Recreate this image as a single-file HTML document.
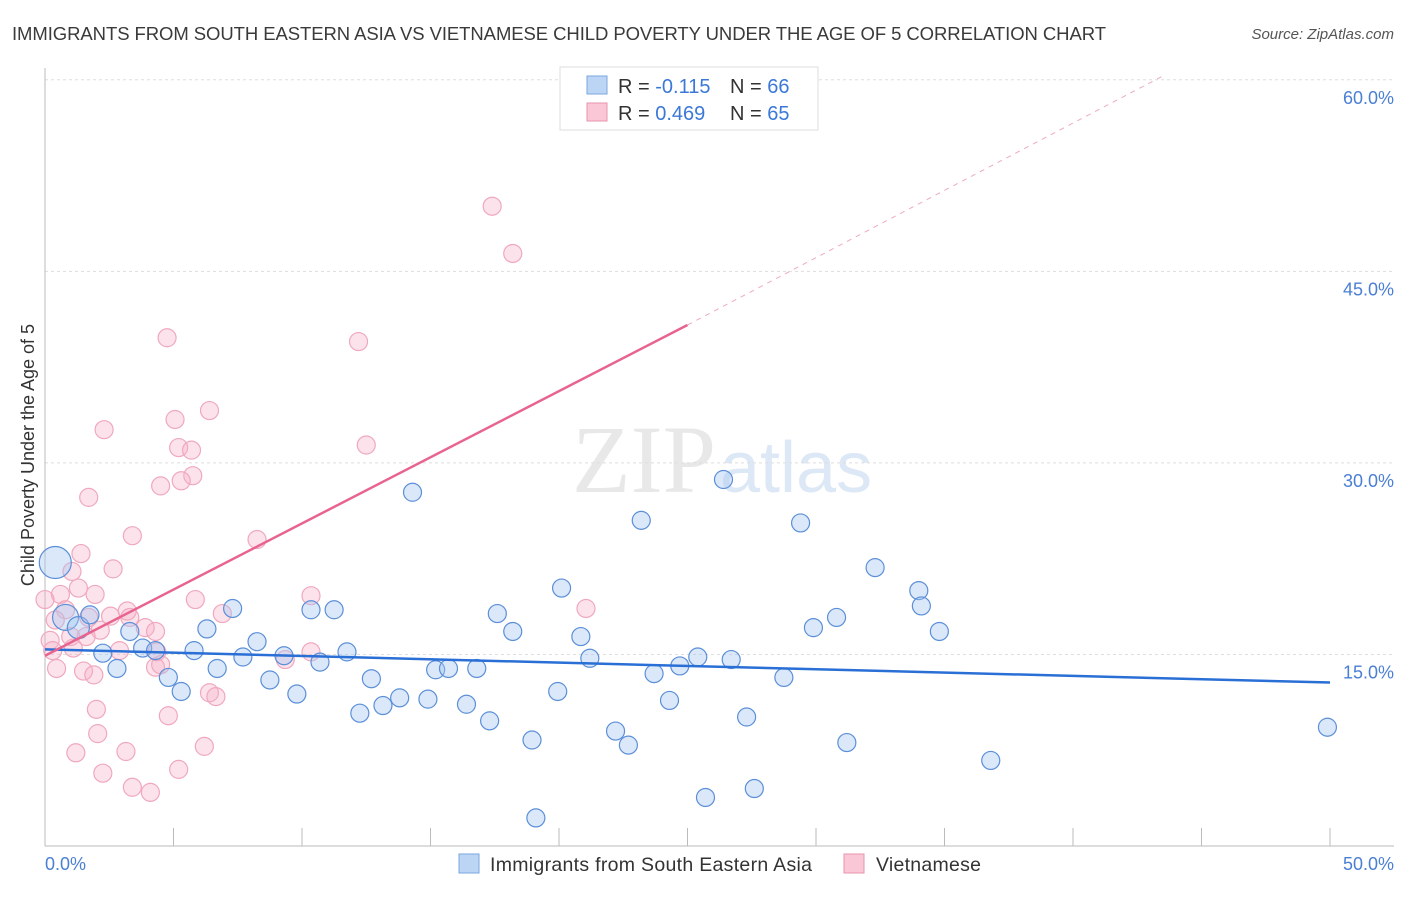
<!DOCTYPE html>
<html><head><meta charset="utf-8"><style>
body{margin:0;background:#fff;font-family:"Liberation Sans",sans-serif;}
</style></head><body>
<svg width="1406" height="892" xmlns="http://www.w3.org/2000/svg">
<text x="12" y="40" font-size="18.5" fill="#3a3a3a" textLength="1094">IMMIGRANTS FROM SOUTH EASTERN ASIA VS VIETNAMESE CHILD POVERTY UNDER THE AGE OF 5 CORRELATION CHART</text>
<text x="1394" y="39" font-size="15" fill="#555" font-style="italic" text-anchor="end">Source: ZipAtlas.com</text>
<text x="716" y="492" font-size="96" fill="#e8e8e8" text-anchor="end" font-family="Liberation Serif">ZIP</text>
<text x="720" y="492" font-size="72" fill="#dde8f6">atlas</text>
<g id="grid"></g>
<g id="axes"></g>
<g id="pts"></g>
<g id="lines"></g>
<text x="34" y="455" font-size="18" fill="#333" text-anchor="middle" transform="rotate(-90 34 455)">Child Poverty Under the Age of 5</text>
<text x="45" y="870" font-size="18" fill="#4a7fd4">0.0%</text>
<text x="1394" y="870" font-size="18" fill="#4a7fd4" text-anchor="end">50.0%</text>
<g>
<rect x="560" y="67" width="258" height="63" fill="#fff" stroke="#ddd"/>
<rect x="587" y="76" width="20" height="18" fill="#bcd5f5" stroke="#7aa7e0"/>
<rect x="587" y="103" width="20" height="18" fill="#f9c7d5" stroke="#e994ae"/>
<text x="618" y="93" font-size="20" fill="#333">R = <tspan fill="#3b78d8">-0.115</tspan></text>
<text x="730" y="93" font-size="20" fill="#333">N = <tspan fill="#3b78d8">66</tspan></text>
<text x="618" y="120" font-size="20" fill="#333">R = <tspan fill="#3b78d8">0.469</tspan></text>
<text x="730" y="120" font-size="20" fill="#333">N = <tspan fill="#3b78d8">65</tspan></text>
</g>
<g>
<rect x="459" y="854" width="20" height="19" fill="#bcd5f5" stroke="#7aa7e0"/>
<text x="490" y="871" font-size="19.5" fill="#333" textLength="322">Immigrants from South Eastern Asia</text>
<rect x="844" y="854" width="20" height="19" fill="#f9c7d5" stroke="#e994ae"/>
<text x="876" y="871" font-size="19.5" fill="#333" textLength="105">Vietnamese</text>
</g>
</svg>
<script>
const yTicks=[15,30,45,60];
const xTickVals=[0,5,10,15,20,25,30,35,40,45,50];
const blueX=[0.4,0.8,1.3,1.75,2.25,2.8,3.3,3.8,4.3,4.8,5.3,5.8,6.3,6.7,7.3,7.7,8.25,8.75,9.3,9.8,10.35,10.7,11.25,11.75,12.25,12.7,13.15,13.8,14.3,14.9,15.2,15.7,16.4,16.8,17.3,17.6,18.2,18.95,19.1,19.95,20.1,20.85,21.2,22.2,22.7,23.2,23.7,24.3,24.7,25.4,25.7,26.4,26.7,27.3,27.6,28.75,29.4,29.9,30.8,31.2,32.3,34.0,34.1,34.8,36.8,49.9];
const blueY=[22.2,17.9,17.1,18.1,15.1,13.9,16.8,15.5,15.3,13.2,12.1,15.3,17.0,13.9,18.6,14.8,16.0,13.0,14.9,11.9,18.5,14.4,18.5,15.2,10.4,13.1,11.0,11.6,27.7,11.5,13.8,13.9,11.1,13.9,9.8,18.2,16.8,8.3,2.2,12.1,20.2,16.4,14.7,9.0,7.9,25.5,13.5,11.4,14.1,14.8,3.8,28.7,14.6,10.1,4.5,13.2,25.3,17.1,17.9,8.1,21.8,20.0,18.8,16.8,6.7,9.3];
const blueR=[16,13,11,9,9,9,9,9,9,9,9,9,9,9,9,9,9,9,9,9,9,9,9,9,9,9,9,9,9,9,9,9,9,9,9,9,9,9,9,9,9,9,9,9,9,9,9,9,9,9,9,9,9,9,9,9,9,9,9,9,9,9,9,9,9,9];
const pinkX=[17.4,18.2,4.75,12.2,6.4,5.06,2.3,5.2,5.7,12.5,5.75,5.3,4.5,1.7,3.4,8.25,1.4,2.65,1.05,1.3,0.6,1.95,10.35,5.85,0,0.8,3.2,21.05,6.9,2.55,3.3,0.4,1.7,3.9,2.15,4.3,1.0,0.2,1.6,2.9,4.35,0.3,1.1,10.35,9.35,4.3,0.45,1.5,1.9,6.4,6.65,2.0,4.8,2.05,6.2,1.2,3.15,5.2,2.25,3.4,4.1,4.5];
const pinkY=[50.1,46.4,39.8,39.5,34.1,33.4,32.6,31.2,31.0,31.4,29.0,28.6,28.2,27.3,24.3,24.0,22.9,21.7,21.5,20.2,19.7,19.7,19.6,19.3,19.3,18.5,18.4,18.6,18.2,18.0,17.9,17.7,17.9,17.1,16.9,16.8,16.4,16.1,16.4,15.3,15.2,15.3,15.5,15.2,14.6,14.0,13.9,13.7,13.4,12.0,11.7,10.7,10.2,8.8,7.8,7.3,7.4,6.0,5.7,4.6,4.2,14.2];
const blueFit=[[0,15.4],[50,12.8]];
const pinkFit=[[0,14.9],[25,40.8]];
const pinkFitExt=[[25,40.8],[43.5,60.3]];
const NS="http://www.w3.org/2000/svg";
const X=v=>45+v*25.7, Y=v=>846-v*12.77;
function mk(t,a,p){const e=document.createElementNS(NS,t);for(const k in a)e.setAttribute(k,a[k]);document.getElementById(p).appendChild(e);return e;}
yTicks.forEach(t=>{
 const l=mk('line',{x1:45,x2:1394,y1:Y(t),y2:Y(t),stroke:'#ddd','stroke-dasharray':'3,3'},'grid');
 
 
 const tx=mk('text',{x:1394,y:Y(t)+24,'font-size':18,fill:'#4a7fd4','text-anchor':'end'},'grid');
 tx.textContent=t.toFixed(1)+'%';
 
 
});
const ax=mk('line',{x1:45,x2:45,y1:68,y2:846,stroke:'#bbb'},'axes');


const bx=mk('line',{x1:45,x2:1394,y1:846,y2:846,stroke:'#bbb'},'axes');


xTickVals.forEach(t=>{
 const l=mk('line',{x1:X(t),x2:X(t),y1:828,y2:846,stroke:'#bbb'},'axes');
 
 
});
pinkX.forEach((v,i)=>{
 const c=mk('circle',{cx:X(v),cy:Y(pinkY[i]),r:9,fill:'rgba(246,175,198,0.35)',stroke:'#f0a8be','stroke-width':1.2},'pts');
 
 
});
blueX.forEach((v,i)=>{
 const c=mk('circle',{cx:X(v),cy:Y(blueY[i]),r:blueR[i],fill:'rgba(165,198,240,0.4)',stroke:'#5b8fd8','stroke-width':1.2},'pts');
 
 
});
function ln(d,st,name,dash,w){const e=mk('line',{x1:X(d[0][0]),y1:Y(d[0][1]),x2:X(d[1][0]),y2:Y(d[1][1]),stroke:st,'stroke-width':w},'lines');if(dash)e.setAttribute('stroke-dasharray',dash);
 
 }
ln(blueFit,'#2a6fd6','blue-trend-line',null,2.5);
ln(pinkFit,'#e8648f','pink-trend-line',null,2.5);
ln(pinkFitExt,'#eeaabf','pink-trend-extension','5,5',1);
</script>
</body></html>
